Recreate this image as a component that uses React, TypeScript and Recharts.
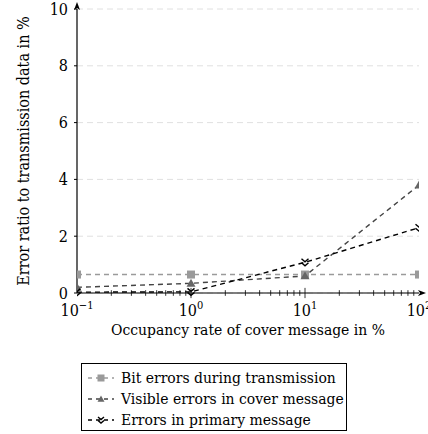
import React from "react";
import {
  LineChart, Line, XAxis, YAxis, CartesianGrid, ReferenceLine,
} from "recharts";

// occupancy rate (log scale) and error ratios in %
const occupancy = [0.1, 1, 10, 100];
const bitErrors = [0.65, 0.65, 0.65, 0.65];
const visibleErrors = [0.2, 0.34, 0.6, 3.8];
const primaryErrors = [0.03, 0.04, 1.08, 2.3];

const xTicks = [0.1, 1, 10, 100];
const xTickExp = ["−1", "0", "1", "2"];
const yTicks = [0, 2, 4, 6, 8, 10];
const minorTicks = [0.2, 0.3, 0.4, 0.5, 0.6, 0.7, 0.8, 0.9, 2, 3, 4, 5, 6, 7, 8, 9, 20, 30, 40, 50, 60, 70, 80, 90];

const seriesNames = [
  "Bit errors during transmission",
  "Visible errors in cover message",
  "Errors in primary message",
];

const data = occupancy.map((x, i) => ({
  x,
  bit: bitErrors[i],
  visible: visibleErrors[i],
  primary: primaryErrors[i],
}));

const FONT = "\"DejaVu Serif Condensed\", \"DejaVu Serif\"";

function Square({ cx, cy, s = 4 }: any) {
  if (cx == null || cy == null) return null;
  return <rect x={cx - s} y={cy - s} width={2 * s} height={2 * s} fill="#9a9a9a" />;
}

function Triangle({ cx, cy, s = 4.5 }: any) {
  if (cx == null || cy == null) return null;
  return <path d={`M${cx},${cy - s} L${cx + s},${cy + s * 0.75} L${cx - s},${cy + s * 0.75} Z`} fill="#666" />;
}

function Arrows({ cx, cy, s = 3.5 }: any) {
  if (cx == null || cy == null) return null;
  return (
    <path
      d={`M${cx - s},${cy - s} L${cx},${cy - 0.5} L${cx + s},${cy - s} M${cx - s},${cy + 0.5} L${cx},${cy + s} L${cx + s},${cy + 0.5}`}
      stroke="#000" strokeWidth={1.4} fill="none"
    />
  );
}

function XTick({ x, y, payload }: any) {
  const i = xTicks.indexOf(payload.value);
  return (
    <text x={x} y={y + 17} textAnchor="middle" style={{ fontFamily: FONT }} fontSize={16} fill="#000">
      <tspan>10</tspan>
      <tspan dy={-7} fontSize={11}>{xTickExp[i]}</tspan>
    </text>
  );
}

function YLabel({ viewBox }: any) {
  const cy = viewBox.y + viewBox.height / 2;
  return (
    <text x={23} y={cy} transform={`rotate(-90, 23, ${cy})`} textAnchor="middle" dominantBaseline="central"
      style={{ fontFamily: FONT }} fontSize={16} fill="#000">
      Error ratio to transmission data in %
    </text>
  );
}

function LegendSymbol({ idx }: { idx: number }) {
  const stroke = ["#9a9a9a", "#444", "#000"][idx];
  const Marker = [Square, Triangle, Arrows][idx];
  const size = [3.5, 3.5, 3][idx];
  return (
    <svg width={28} height={14} style={{ display: "block", flex: "none" }}>
      <line x1={1} y1={7} x2={27} y2={7} stroke={stroke} strokeWidth={1.4} strokeDasharray="4 4" />
      <Marker cx={14} cy={7} s={size} />
    </svg>
  );
}

export default function App() {
  return (
    <div style={{ position: "absolute", left: 0, top: 0, width: 428, height: 434, background: "#fff" }}>
      <svg width={0} height={0} style={{ position: "absolute" }}>
        <defs>
          <marker id="axArrow" viewBox="0 0 8 6" markerWidth={8} markerHeight={6} refX={1} refY={3}
            orient="auto-start-reverse" markerUnits="userSpaceOnUse">
            <path d="M0,0 L8,3 L0,6 L2,3 Z" fill="#000" />
          </marker>
        </defs>
      </svg>
      <LineChart width={428} height={434} data={data} margin={{ top: 9, right: 9, left: 0, bottom: 99 }}>
        <CartesianGrid vertical={false} stroke="#e0e0e0" strokeDasharray="6 4" />
        <XAxis
          dataKey="x" type="number" scale="log" domain={[0.1, 100]} allowDataOverflow
          ticks={xTicks} interval={0} height={42} tickSize={0} tickMargin={6}
          tick={<XTick />}
          axisLine={{ stroke: "#000", strokeWidth: 1.2, markerEnd: "url(#axArrow)" }}
          label={{ value: "Occupancy rate of cover message in %", position: "insideBottom", offset: 0,
            style: { fontFamily: FONT, fontSize: 15.5, fill: "#000" } }}
        />
        <YAxis
          type="number" domain={[0, 10]} ticks={yTicks} interval={0} width={77}
          tickSize={3} tickMargin={6}
          tick={{ style: { fontFamily: FONT }, fontSize: 16, fill: "#000" }}
          tickLine={{ stroke: "#000" }}
          axisLine={{ stroke: "#000", strokeWidth: 1.2, markerStart: "url(#axArrow)" }}
          label={<YLabel />}
        />
        {minorTicks.map((t) => (
          <ReferenceLine key={t} segment={[{ x: t, y: -0.1 }, { x: t, y: 0.1 }]} stroke="#000" strokeWidth={0.8} ifOverflow="visible" />
        ))}
        {[1, 10].map((t) => (
          <ReferenceLine key={"M" + t} segment={[{ x: t, y: -0.18 }, { x: t, y: 0.18 }]} stroke="#000" strokeWidth={0.8} ifOverflow="visible" />
        ))}
        <Line dataKey="bit" name={seriesNames[0]} stroke="#9a9a9a" strokeWidth={1.4} strokeDasharray="5 4"
          dot={<Square />} isAnimationActive={false} />
        <Line dataKey="visible" name={seriesNames[1]} stroke="#444" strokeWidth={1.4} strokeDasharray="5 4"
          dot={<Triangle />} isAnimationActive={false} />
        <Line dataKey="primary" name={seriesNames[2]} stroke="#000" strokeWidth={1.4} strokeDasharray="5 4"
          dot={<Arrows />} isAnimationActive={false} />
      </LineChart>
      <div style={{
        position: "absolute", left: 81, top: 363, width: 266, height: 68, border: "1px solid #000",
        fontSize: 15.5, color: "#000", padding: "3.5px 0 0 5px", boxSizing: "border-box", fontFamily: FONT,
      }}>
        {seriesNames.map((name, i) => (
          <div key={name} style={{ display: "flex", alignItems: "center", height: 21, gap: 6, whiteSpace: "nowrap" }}>
            <LegendSymbol idx={i} />
            <span>{name}</span>
          </div>
        ))}
      </div>
    </div>
  );
}
